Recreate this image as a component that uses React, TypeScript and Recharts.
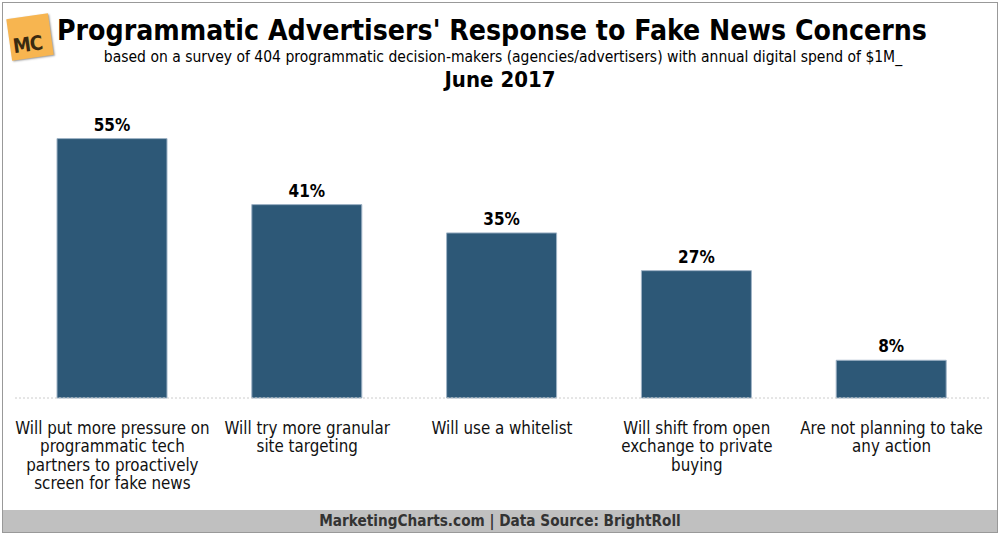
import { BarChart, Bar, XAxis, YAxis, LabelList } from "recharts";

const CATEGORIES = ["pressure", "granular", "whitelist", "shift", "none"];
const VALUES = [55, 41, 35, 27, 8];
const TICK_LINES = [
  ["Will put more pressure on", "programmatic tech", "partners to proactively", "screen for fake news"],
  ["Will try more granular", "site targeting"],
  ["Will use a whitelist"],
  ["Will shift from open", "exchange to private", "buying"],
  ["Are not planning to take", "any action"],
];

const FONT = "'DejaVu Sans Condensed', 'Liberation Sans Narrow', sans-serif";

const data = CATEGORIES.map((c, i) => ({ key: c, value: VALUES[i], idx: i }));

function CategoryTick(props: any) {
  const { x, y, index } = props;
  const lines = TICK_LINES[index] ?? [];
  return (
    <g transform={`translate(${x},${y})`}>
      {lines.map((line, i) => (
        <text
          key={i}
          x={0}
          y={28 + i * 18.3}
          textAnchor="middle"
          fontSize={16.8}
          fontFamily={FONT}
          fill="#111"
        >
          {line}
        </text>
      ))}
    </g>
  );
}

export default function App() {
  return (
    <div
      style={{
        position: "absolute",
        top: 0,
        left: 0,
        width: 1000,
        height: 535,
        background: "#fff",
        fontFamily: FONT,
        overflow: "hidden",
      }}
    >
      <div
        style={{
          position: "absolute",
          left: 2,
          top: 2,
          width: 994,
          height: 529,
          border: "1px solid #999",
        }}
      />
      {/* logo */}
      <div
        style={{
          position: "absolute",
          left: 9,
          top: 16,
          width: 42,
          height: 42,
          background: "#f7b550",
          transform: "rotate(-8deg)",
          boxShadow: "1px 1px 2px #999",
        }}
      >
        <div
          style={{
            position: "absolute",
            left: 3,
            bottom: 2,
            fontSize: 20,
            fontWeight: 700,
            color: "#3a2a10",
            letterSpacing: -1,
          }}
        >
          MC
        </div>
      </div>
      <div
        style={{
          position: "absolute",
          top: 14,
          left: 57,
          width: 868,
          textAlign: "center",
          fontSize: 28.2,
          fontWeight: 700,
          color: "#000",
          whiteSpace: "nowrap",
        }}
      >
        Programmatic Advertisers' Response to Fake News Concerns
      </div>
      <div
        style={{
          position: "absolute",
          top: 48,
          left: 0,
          width: 1006,
          textAlign: "center",
          fontSize: 15.5,
          color: "#000",
          whiteSpace: "nowrap",
        }}
      >
        based on a survey of 404 programmatic decision-makers (agencies/advertisers) with annual digital spend of $1M_
      </div>
      <div
        style={{
          position: "absolute",
          top: 67,
          left: 0,
          width: 1000,
          textAlign: "center",
          fontSize: 22,
          fontWeight: 700,
          color: "#000",
        }}
      >
        June 2017
      </div>

      <div style={{ position: "absolute", top: 0, left: 0 }}>
        <BarChart
          width={1000}
          height={500}
          data={data}
          margin={{ top: 115, left: 15, right: 11, bottom: 0 }}
        >
          <YAxis hide domain={[0, 60]} />
          <XAxis
            dataKey="key"
            height={102}
            axisLine={{ stroke: "#ccc", strokeDasharray: "2 2" }}
            tickLine={false}
            interval={0}
            tick={<CategoryTick />}
          />
          <Bar
            dataKey="value"
            fill="#2d5877"
            stroke="#9fb3c6"
            strokeWidth={1}
            barSize={110}
            isAnimationActive={false}
          >
            <LabelList
              dataKey="value"
              position="top"
              offset={8}
              formatter={(v: any) => `${v}%`}
              style={{ fontSize: 17, fontWeight: 700, fill: "#000", fontFamily: FONT }}
            />
          </Bar>
        </BarChart>
      </div>

      <div
        style={{
          position: "absolute",
          left: 3,
          top: 510,
          width: 994,
          height: 22,
          background: "#c0c0c0",
          textAlign: "center",
          fontSize: 15.2,
          fontWeight: 700,
          color: "#333",
          lineHeight: "22px",
        }}
      >
        MarketingCharts.com | Data Source: BrightRoll
      </div>
    </div>
  );
}
